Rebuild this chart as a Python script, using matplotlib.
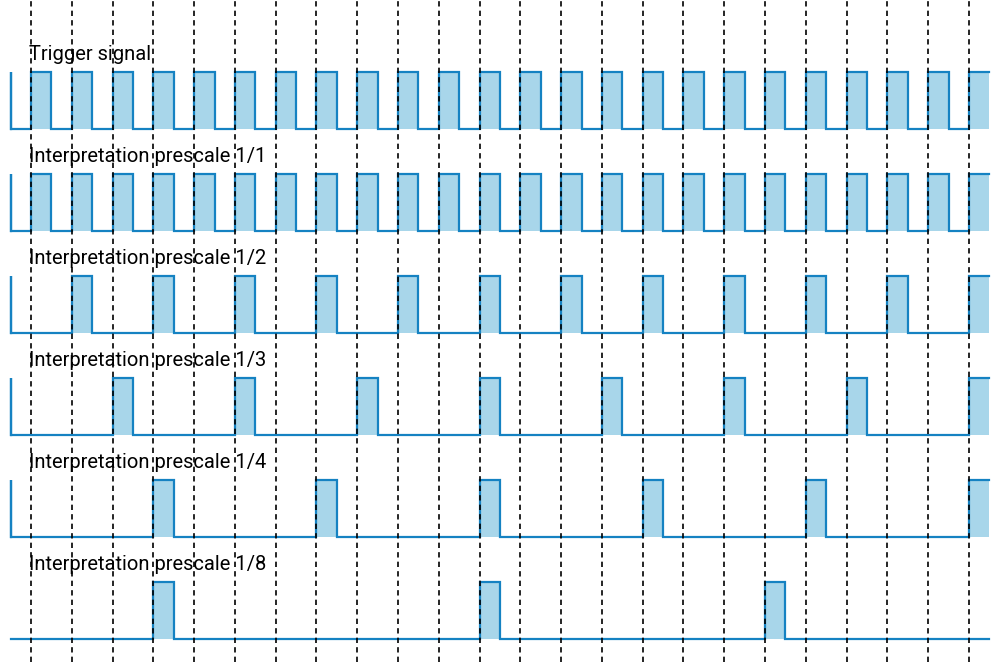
import matplotlib
matplotlib.use("Agg")
import matplotlib.pyplot as plt

# labels of the rows, top to bottom
row_labels = [
    "Trigger signal",
    "Interpretation prescale 1/1",
    "Interpretation prescale 1/2",
    "Interpretation prescale 1/3",
    "Interpretation prescale 1/4",
    "Interpretation prescale 1/8",
]

# trigger periods (index of the dashed line) where each row has a pulse
trigger_pulses = [-1, 0, 1, 2, 3, 4, 5, 6, 7, 8, 9, 10, 11, 12, 13, 14, 15, 16,
                  17, 18, 19, 20, 21, 22, 23]
prescale_1_1 = [-1, 0, 1, 2, 3, 4, 5, 6, 7, 8, 9, 10, 11, 12, 13, 14, 15, 16,
                17, 18, 19, 20, 21, 22, 23]
prescale_1_2 = [-1, 1, 3, 5, 7, 9, 11, 13, 15, 17, 19, 21, 23]
prescale_1_3 = [-1, 2, 5, 8, 11, 14, 17, 20, 23]
prescale_1_4 = [-1, 3, 7, 11, 15, 19, 23]
prescale_1_8 = [3, 11, 18]

trigger_ticks = list(range(24))
pulse_width = 0.5

rows = [trigger_pulses, prescale_1_1, prescale_1_2, prescale_1_3,
        prescale_1_4, prescale_1_8]

line_col = "#1582c2"
fill_col = "#a8d6ea"

t_start, t_end = -0.5, 23.5
row_low = [129, 231, 333, 435, 537, 639]
amp = 57


def waveform(pulses, low, high):
    xs, ys = [t_start], [low]
    for p in pulses:
        rise = max(p, t_start)
        fall = min(p + pulse_width, t_end)
        xs += [rise, rise, fall]
        ys += [low, high, high]
        if fall < t_end:
            xs.append(fall)
            ys.append(low)
    if xs[-1] < t_end:
        xs.append(t_end)
        ys.append(low)
    return xs, ys


fig = plt.figure(figsize=(9.99, 6.62), dpi=100)
ax = fig.add_axes([0, 0, 1, 1])

for label, pulses, low in zip(row_labels, rows, row_low):
    high = low - amp
    xs, ys = waveform(pulses, low, high)
    ax.fill_between(xs, ys, low, color=fill_col, lw=0, zorder=1)
    ax.plot(xs, ys, color=line_col, lw=1.6, zorder=2, solid_joinstyle="miter")
    ax.text(-0.06, high - 12, label, fontsize=14.5, va="baseline", ha="left",
            family=["Roboto", "DejaVu Sans"], stretch="condensed", zorder=3)

for t in trigger_ticks:
    ax.axvline(t, color="black", lw=1.2, ls=(0, (3.2, 2.5)), zorder=5)

px = 40.78
ax.set_xlim(-31 / px, (999 - 31) / px)
ax.set_ylim(662, 0)
ax.axis("off")

fig.savefig("out.png", dpi=100)
